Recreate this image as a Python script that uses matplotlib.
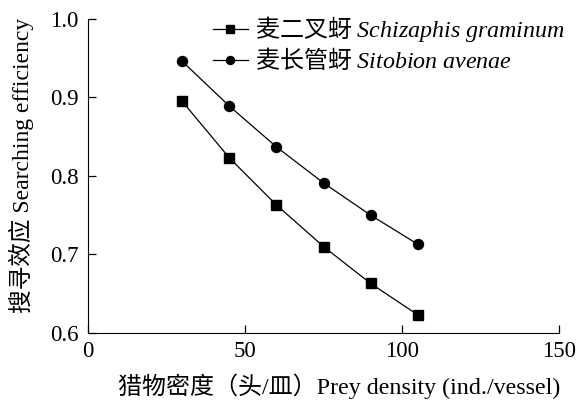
import numpy as np
import matplotlib
matplotlib.use('Agg')
import matplotlib.pyplot as plt

plt.rcParams['font.family'] = ['Liberation Serif', 'Noto Sans CJK SC']
plt.rcParams['mathtext.fontset'] = 'custom'
plt.rcParams['mathtext.it'] = 'Liberation Serif:italic'
plt.rcParams['mathtext.rm'] = 'Noto Sans CJK SC'

density = [30, 45, 60, 75, 90, 105]
schizaphis = [0.895, 0.823, 0.763, 0.710, 0.663, 0.623]
sitobion = [0.946, 0.889, 0.837, 0.791, 0.750, 0.713]

label_sg = r'$\mathrm{麦二叉蚜}\ Schizaphis\ graminum$'
label_sa = r'$\mathrm{麦长管蚜}\ Sitobion\ avenae$'

fig = plt.figure(figsize=(5.79, 4.03), dpi=100)
ax = fig.add_axes([0.152, 0.174, 0.8135, 0.779])

ax.plot(density, schizaphis, color='black', lw=0.9, marker='s', ms=7, label=label_sg)
ax.plot(density, sitobion, color='black', lw=0.9, marker='o', ms=7.2, label=label_sa)

ax.set_xlim(0, 150)
ax.set_ylim(0.6, 1.0)
ax.set_xticks([0, 50, 100, 150])
ax.set_yticks([0.6, 0.7, 0.8, 0.9, 1.0])
ax.set_yticklabels(['0.6', '0.7', '0.8', '0.9', '1.0'])
ax.spines['top'].set_visible(False)
ax.spines['right'].set_visible(False)
ax.tick_params(direction='in', length=6, width=0.9, labelsize=16.5)
ax.tick_params(axis='x', pad=6)
ax.tick_params(axis='y', pad=7)
ax.set_xlabel('猎物密度（头/皿）Prey density (ind./vessel)', fontsize=17.3)
ax.set_ylabel('搜寻效应 Searching efficiency', fontsize=17)
ax.xaxis.set_label_coords(0.533, -0.13)
ax.yaxis.set_label_coords(-0.115, 0.535)

ax.legend(loc='upper left', bbox_to_anchor=(0.265, 1.015), frameon=False, fontsize=17.3,
          handlelength=1.45, handletextpad=0.3, labelspacing=0.12, borderaxespad=0,
          borderpad=0, markerscale=0.8)

fig.savefig('out.png', dpi=100)
